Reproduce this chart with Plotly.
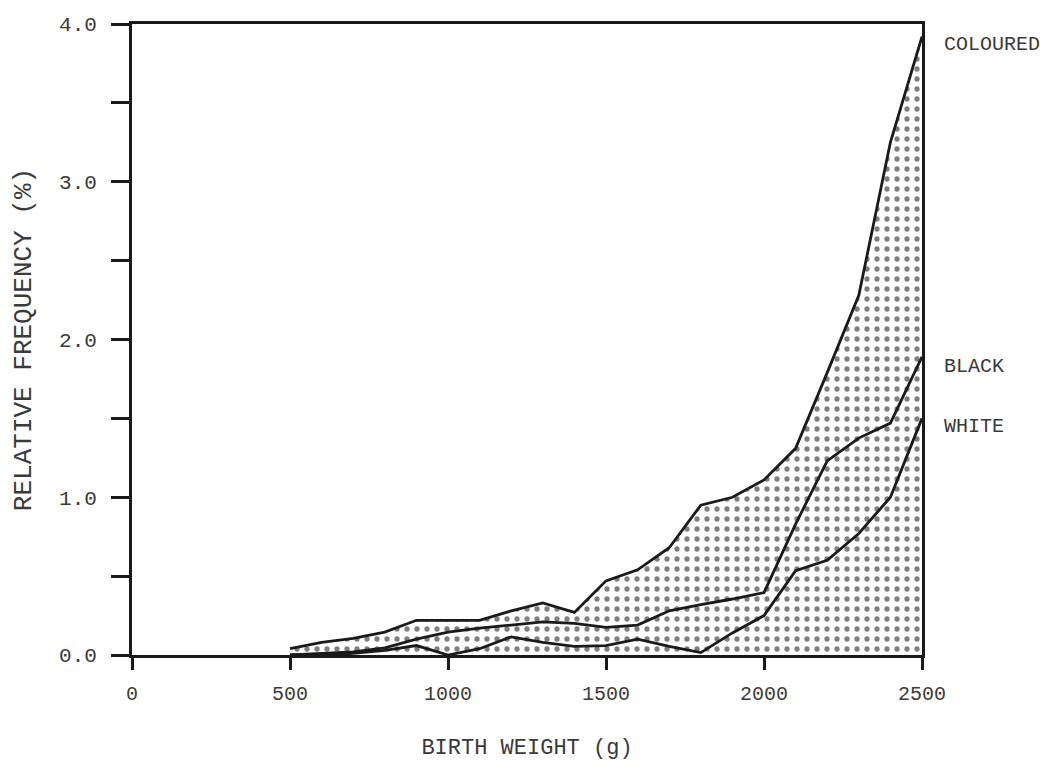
import plotly.graph_objects as go

# Birth weight classes (g)
weights = [500, 600, 700, 800, 900, 1000, 1100, 1200, 1300, 1400, 1500,
           1600, 1700, 1800, 1900, 2000, 2100, 2200, 2300, 2400, 2500]

# Relative frequency (%) per group
coloured = [0.04, 0.08, 0.105, 0.145, 0.22, 0.22, 0.22, 0.28, 0.33, 0.27, 0.47,
            0.54, 0.68, 0.95, 1.00, 1.11, 1.31, 1.79, 2.28, 3.25, 3.92]
black = [0.0, 0.01, 0.02, 0.045, 0.10, 0.145, 0.17, 0.19, 0.21, 0.20, 0.175,
         0.19, 0.28, 0.32, 0.355, 0.395, 0.83, 1.23, 1.375, 1.47, 1.89]
white = [0.0, 0.0, 0.01, 0.03, 0.06, 0.0, 0.04, 0.115, 0.08, 0.055, 0.06,
         0.10, 0.055, 0.015, 0.14, 0.25, 0.535, 0.60, 0.77, 1.0, 1.5]

labels = ["COLOURED", "BLACK", "WHITE"]

INK = "#1a1a1a"
TXT = "#3a3a3a"
FONT = "Liberation Mono, DejaVu Sans Mono, monospace"

fig = go.Figure()

fig.add_trace(go.Scatter(
    x=weights, y=coloured, mode="lines", name=labels[0],
    line=dict(color=INK, width=2.8),
    fill="tozeroy", fillcolor="white",
    fillpattern=dict(shape=".", size=10, solidity=0.22,
                     fgcolor="#000000", bgcolor="white", fillmode="overlay"),
))
fig.add_trace(go.Scatter(
    x=weights, y=black, mode="lines", name=labels[1],
    line=dict(color=INK, width=2.8),
))
fig.add_trace(go.Scatter(
    x=weights, y=white, mode="lines", name=labels[2],
    line=dict(color=INK, width=2.8),
))

for lab, ser, shift in zip(labels, [coloured, black, white], [-8, -10, -8]):
    fig.add_annotation(
        x=weights[-1], y=ser[-1], xref="x", yref="y",
        text=lab, showarrow=False, xanchor="left", yanchor="middle",
        xshift=20, yshift=shift,
        font=dict(family=FONT, size=20, color=TXT),
    )

fig.update_layout(
    width=1053, height=767,
    margin=dict(l=132, r=131, t=24, b=106),
    paper_bgcolor="white", plot_bgcolor="white",
    showlegend=False,
    font=dict(family=FONT, color=TXT),
)

fig.update_xaxes(
    range=[0, 2500], tickvals=[0, 500, 1000, 1500, 2000, 2500],
    ticks="outside", ticklen=12, tickwidth=2.5, tickcolor=INK,
    showline=True, linecolor=INK, linewidth=2.8, mirror=True,
    showgrid=False, zeroline=False,
    tickfont=dict(family=FONT, size=20, color=TXT),
    ticklabelstandoff=6,
    title=dict(text="BIRTH WEIGHT (g)", standoff=34,
               font=dict(family=FONT, size=22, color=TXT)),
)
fig.update_yaxes(
    range=[0, 4], dtick=1, tickformat=".1f",
    ticks="outside", ticklen=18, tickwidth=2.5, tickcolor=INK,
    minor=dict(dtick=0.5, ticks="outside", ticklen=18, tickwidth=2.5, tickcolor=INK),
    showline=True, linecolor=INK, linewidth=2.8, mirror=True,
    showgrid=False, zeroline=False,
    tickfont=dict(family=FONT, size=21, color=TXT),
    ticklabelstandoff=10,
    title=dict(text="RELATIVE FREQUENCY (%)", standoff=20,
               font=dict(family=FONT, size=26, color=TXT)),
)

fig.write_html("out.html", config={"displayModeBar": False})

# remove the browser's default page margin so the figure sits at (0, 0)
with open("out.html", "r", encoding="utf-8") as f:
    html = f.read()
html = html.replace("<body>", '<body style="margin:0;padding:0;overflow:hidden">', 1)
with open("out.html", "w", encoding="utf-8") as f:
    f.write(html)
